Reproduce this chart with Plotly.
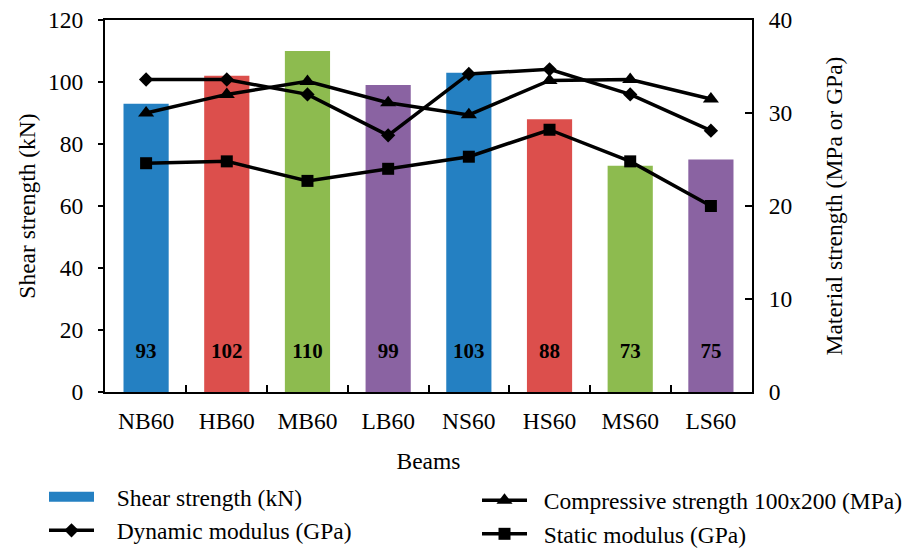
import plotly.graph_objects as go

# Beam identifiers
beams = ["NB60", "HB60", "MB60", "LB60", "NS60", "HS60", "MS60", "LS60"]

# Shear strength of each beam (kN), left axis
shear_strength = [93, 102, 110, 99, 103, 88, 73, 75]

# Material properties, right axis
compressive_strength = [30.0, 32.0, 33.4, 31.1, 29.8, 33.5, 33.6, 31.5]  # MPa
dynamic_modulus = [33.6, 33.6, 32.0, 27.6, 34.2, 34.7, 32.0, 28.1]       # GPa
static_modulus = [24.6, 24.8, 22.7, 24.0, 25.3, 28.2, 24.8, 20.0]        # GPa

bar_colors = ["#2480C2", "#DC4F4C", "#8DBB4F", "#8A63A2",
              "#2480C2", "#DC4F4C", "#8DBB4F", "#8A63A2"]

FONT = "Liberation Serif, Times New Roman, serif"
FS = 23.5
TITLE_FONT = dict(family=FONT, size=FS, color="black")
NBSP = "\u00a0"

fig = go.Figure()

fig.add_trace(go.Bar(
    x=beams, y=shear_strength, name="Shear strength (kN)",
    marker=dict(color=bar_colors, line=dict(width=0)),
    yaxis="y", showlegend=False,
))

# Legend key for the bars (wide rectangle swatch)
fig.add_trace(go.Scatter(
    x=[beams[0]], y=[None], name=NBSP * 3 + "Shear strength (kN)", mode="lines",
    line=dict(color=bar_colors[0], width=13),
    legend="legend", hoverinfo="skip",
))

line_style = dict(color="black", width=3.5)
fig.add_trace(go.Scatter(
    x=beams, y=compressive_strength,
    name=NBSP * 2 + "Compressive strength 100x200 (MPa)",
    mode="lines+markers", line=line_style,
    marker=dict(symbol="triangle-up", size=14, color="black"),
    yaxis="y2", legend="legend2",
))
fig.add_trace(go.Scatter(
    x=beams, y=dynamic_modulus, name=NBSP * 3 + "Dynamic modulus (GPa)",
    mode="lines+markers", line=line_style,
    marker=dict(symbol="diamond", size=11, color="black"),
    yaxis="y2", legend="legend",
))
fig.add_trace(go.Scatter(
    x=beams, y=static_modulus, name=NBSP * 2 + "Static modulus (GPa)",
    mode="lines+markers", line=line_style,
    marker=dict(symbol="square", size=12, color="black"),
    yaxis="y2", legend="legend2",
))

# Value labels near the foot of each bar
fig.add_trace(go.Scatter(
    x=beams, y=[12.6] * len(beams), mode="text",
    text=[str(v) for v in shear_strength],
    textfont=dict(family=FONT, size=21, color="black", weight="bold"),
    showlegend=False, hoverinfo="skip", yaxis="y",
))

# Two legend blocks, one entry per row each
legend_common = dict(
    orientation="h", xref="container", yref="container",
    xanchor="left", yanchor="top", itemwidth=45,
    entrywidth=400, entrywidthmode="pixels",
    font=dict(family=FONT, size=FS, color="black"),
    bgcolor="rgba(0,0,0,0)", borderwidth=0, traceorder="normal",
)

fig.update_layout(
    width=911, height=551,
    margin=dict(l=105, r=159, t=20, b=159),
    paper_bgcolor="white", plot_bgcolor="white",
    font=dict(family=FONT, size=FS, color="black"),
    bargap=0.44,
    showlegend=True,
    legend=dict(legend_common, x=44 / 911, y=0.138),
    legend2=dict(legend_common, x=477 / 911, y=0.1316),
    xaxis=dict(
        title=dict(text="Beams", standoff=19, font=TITLE_FONT),
        showline=True, linecolor="black", linewidth=2, mirror=True,
        ticks="inside", ticklen=7, tickwidth=1.5, tickcolor="black",
        tickson="boundaries", showgrid=False,
        ticklabelstandoff=7, automargin=False,
    ),
    yaxis=dict(
        title=dict(text="Shear strength (kN)", standoff=6, font=TITLE_FONT),
        range=[0, 120], dtick=20,
        showline=True, linecolor="black", linewidth=2,
        ticks="outside", ticklen=5, tickwidth=1.5, tickcolor="black",
        showgrid=False, zeroline=False,
        ticklabelstandoff=10, automargin=False,
    ),
    yaxis2=dict(
        title=dict(text="Material strength (MPa or GPa)", standoff=34, font=TITLE_FONT),
        range=[0, 40], dtick=10, overlaying="y", side="right",
        showline=True, linecolor="black", linewidth=2,
        ticks="inside", ticklen=7, tickwidth=1.5, tickcolor="black",
        showgrid=False, zeroline=False,
        ticklabelstandoff=10, automargin=False,
    ),
)

fig.write_html("out.html")
